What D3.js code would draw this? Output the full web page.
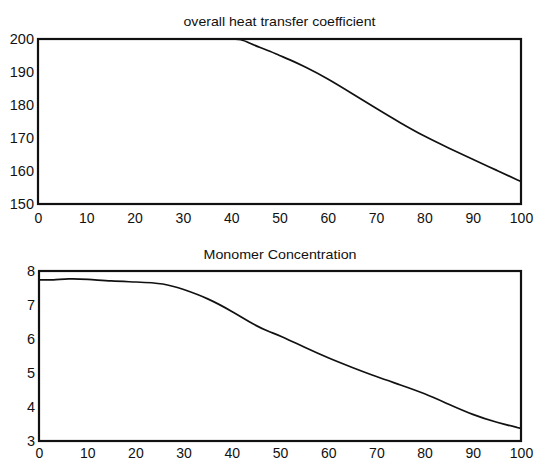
<!DOCTYPE html>
<html lang="en">
<head>
<meta charset="utf-8" />
<title>Heat transfer / monomer</title>
<script src="https://d3js.org/d3.v7.min.js"></script>
<style>
  body { margin: 0; background: #fff; }
  text { font-family: "Liberation Sans", Arial, sans-serif; fill: #111; }
</style>
</head>
<body>
<script>
    // data
    const xTicks = [0, 10, 20, 30, 40, 50, 60, 70, 80, 90, 100];

    const heatX = [0, 10, 20, 30, 40, 42, 44, 46, 48, 50, 52, 55, 60, 65, 70, 75, 80, 85, 90, 95, 100];
    const heatY = [200, 200, 200, 200, 200, 200, 198.6, 197.4, 196.3, 195, 193.8, 191.8, 188, 183.5, 179, 174.6, 170.5, 167, 163.5, 160.2, 156.8];
    const heatTicks = [150, 160, 170, 180, 190, 200];

    const monoX = [0, 3, 6, 10, 15, 20, 26, 30, 35, 40, 45, 48, 50, 55, 60, 65, 70, 75, 80, 85, 90, 95, 100];
    const monoY = [7.74, 7.73, 7.78, 7.76, 7.7, 7.68, 7.64, 7.46, 7.2, 6.82, 6.38, 6.2, 6.1, 5.76, 5.44, 5.16, 4.89, 4.65, 4.4, 4.08, 3.77, 3.54, 3.37];
    const monoTicks = [3, 4, 5, 6, 7, 8];

    const width = 535, height = 461;
    const svg = d3.select("body").append("svg")
        .attr("width", width)
        .attr("height", height);

    // one panel: frame, labels, curve
    function panel(opts) {
        const x = d3.scaleLinear().domain([0, 100]).range([opts.left, opts.right]);
        const y = d3.scaleLinear().domain(opts.domain).range([opts.bottom, opts.top]);
        const g = svg.append("g");

        g.append("text")
            .attr("x", (opts.left + opts.right) / 2)
            .attr("y", opts.titleY)
            .attr("text-anchor", "middle")
            .attr("font-size", opts.titleSize)
            .attr("textLength", opts.titleLen)
            .attr("lengthAdjust", "spacingAndGlyphs")
            .text(opts.title);

        // x tick labels, no tick marks
        const xAxis = d3.axisBottom(x).tickValues(xTicks).tickSize(0).tickPadding(opts.xPad);
        g.append("g")
            .attr("transform", "translate(0," + opts.bottom + ")")
            .call(xAxis)
            .call(a => a.select(".domain").remove())
            .selectAll("text").attr("font-size", 14).attr("font-family", null);

        const yAxis = d3.axisLeft(y).tickValues(opts.ticks).tickFormat(d3.format("d"))
            .tickSize(0).tickPadding(4);
        g.append("g")
            .attr("transform", "translate(" + opts.left + ",0)")
            .call(yAxis)
            .call(a => a.select(".domain").remove())
            .selectAll("text").attr("font-size", 14.5).attr("font-family", null);

        g.append("rect")
            .attr("x", opts.left).attr("y", opts.top)
            .attr("width", opts.right - opts.left)
            .attr("height", opts.bottom - opts.top)
            .attr("fill", "none")
            .attr("stroke", "#111")
            .attr("stroke-width", 2.2);

        const line = d3.line()
            .x(d => x(d[0]))
            .y(d => y(d[1]))
            .curve(d3.curveBasis);

        g.append("path")
            .datum(opts.xs.map((v, i) => [v, opts.ys[i]]))
            .attr("d", line)
            .attr("fill", "none")
            .attr("stroke", "#111")
            .attr("stroke-width", 1.7);
    }

    panel({
        title: "overall heat transfer coefficient", titleY: 26, titleSize: 13, titleLen: 192,
        left: 38, right: 521, top: 39, bottom: 204, xPad: 9,
        domain: [150, 200], ticks: heatTicks, xs: heatX, ys: heatY
    });

    panel({
        title: "Monomer Concentration", titleY: 259, titleSize: 13.5, titleLen: 153,
        left: 39, right: 521, top: 271, bottom: 441, xPad: 7,
        domain: [3, 8], ticks: monoTicks, xs: monoX, ys: monoY
    });
</script>
</body>
</html>
